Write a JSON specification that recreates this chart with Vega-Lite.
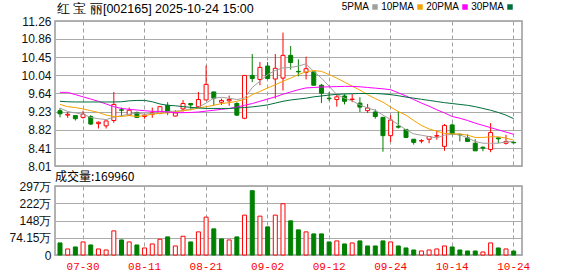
{
  "$schema": "https://vega.github.io/schema/vega-lite/v6.json",
  "background": "#ffffff",
  "padding": {"left": 8, "top": 1, "right": 5, "bottom": 0},
  "bounds": "flush",
  "spacing": 20,
  "config": {
    "view": {"stroke": "#999999", "strokeWidth": 1.5},
    "axis": {"gridColor": "#ababab", "gridWidth": 1, "gridOpacity": 1, "domain": false, "ticks": false, "labelFont": "Liberation Sans", "labelFontSize": 12, "labelColor": "#111111", "labelOverlap": false, "labelFlush": false}
  },
  "data": {"values": [
    {"t":"07-25","o":9.25,"h":9.31,"l":9.10,"c":9.18,"v":519000,"chg":"down","5PMA":9.31,"10PMA":9.39,"20PMA":9.66,"30PMA":9.46},
    {"t":"07-28","o":9.15,"h":9.22,"l":9.09,"c":9.17,"v":260000,"chg":"up","5PMA":9.23,"10PMA":9.34,"20PMA":9.66,"30PMA":9.45},
    {"t":"07-29","o":9.14,"h":9.14,"l":9.03,"c":9.07,"v":346000,"chg":"down","5PMA":9.20,"10PMA":9.32,"20PMA":9.61,"30PMA":9.445},
    {"t":"07-30","o":9.10,"h":9.25,"l":9.07,"c":9.17,"v":562000,"chg":"up","5PMA":9.17,"10PMA":9.29,"20PMA":9.56,"30PMA":9.445},
    {"t":"07-31","o":9.12,"h":9.15,"l":8.93,"c":8.95,"v":432000,"chg":"down","5PMA":9.10,"10PMA":9.25,"20PMA":9.51,"30PMA":9.445},
    {"t":"08-01","o":8.96,"h":9.01,"l":8.85,"c":8.99,"v":260000,"chg":"up","5PMA":9.07,"10PMA":9.21,"20PMA":9.46,"30PMA":9.445},
    {"t":"08-04","o":8.91,"h":9.03,"l":8.85,"c":9.02,"v":216000,"chg":"up","5PMA":9.05,"10PMA":9.15,"20PMA":9.40,"30PMA":9.445},
    {"t":"08-05","o":9.03,"h":9.67,"l":8.98,"c":9.39,"v":1038000,"chg":"up","5PMA":9.10,"10PMA":9.12,"20PMA":9.34,"30PMA":9.445},
    {"t":"08-06","o":9.27,"h":9.32,"l":9.12,"c":9.26,"v":649000,"chg":"down","5PMA":9.14,"10PMA":9.12,"20PMA":9.30,"30PMA":9.45},
    {"t":"08-07","o":9.15,"h":9.32,"l":9.14,"c":9.26,"v":562000,"chg":"up","5PMA":9.17,"10PMA":9.14,"20PMA":9.28,"30PMA":9.47},
    {"t":"08-08","o":9.21,"h":9.23,"l":9.09,"c":9.10,"v":432000,"chg":"down","5PMA":9.20,"10PMA":9.12,"20PMA":9.265,"30PMA":9.48},
    {"t":"08-11","o":9.12,"h":9.17,"l":9.07,"c":9.15,"v":303000,"chg":"up","5PMA":9.17,"10PMA":9.14,"20PMA":9.25,"30PMA":9.48},
    {"t":"08-12","o":9.17,"h":9.32,"l":9.09,"c":9.20,"v":476000,"chg":"up","5PMA":9.19,"10PMA":9.17,"20PMA":9.235,"30PMA":9.45},
    {"t":"08-13","o":9.19,"h":9.34,"l":9.17,"c":9.34,"v":678000,"chg":"up","5PMA":9.20,"10PMA":9.19,"20PMA":9.235,"30PMA":9.40},
    {"t":"08-14","o":9.37,"h":9.44,"l":9.15,"c":9.22,"v":779000,"chg":"down","5PMA":9.23,"10PMA":9.20,"20PMA":9.22,"30PMA":9.37},
    {"t":"08-15","o":9.13,"h":9.26,"l":9.12,"c":9.20,"v":389000,"chg":"up","5PMA":9.24,"10PMA":9.22,"20PMA":9.205,"30PMA":9.36},
    {"t":"08-18","o":9.29,"h":9.49,"l":9.23,"c":9.41,"v":807000,"chg":"up","5PMA":9.25,"10PMA":9.25,"20PMA":9.205,"30PMA":9.34},
    {"t":"08-19","o":9.41,"h":9.41,"l":9.26,"c":9.38,"v":562000,"chg":"down","5PMA":9.29,"10PMA":9.27,"20PMA":9.21,"30PMA":9.325},
    {"t":"08-20","o":9.34,"h":9.67,"l":9.31,"c":9.50,"v":995000,"chg":"up","5PMA":9.33,"10PMA":9.31,"20PMA":9.22,"30PMA":9.31},
    {"t":"08-21","o":9.49,"h":10.26,"l":9.49,"c":9.84,"v":1629000,"chg":"up","5PMA":9.42,"10PMA":9.34,"20PMA":9.24,"30PMA":9.30},
    {"t":"08-22","o":9.67,"h":9.67,"l":9.37,"c":9.53,"v":1125000,"chg":"down","5PMA":9.53,"10PMA":9.37,"20PMA":9.26,"30PMA":9.30},
    {"t":"08-25","o":9.44,"h":9.52,"l":9.38,"c":9.48,"v":692000,"chg":"down","5PMA":9.55,"10PMA":9.41,"20PMA":9.28,"30PMA":9.30},
    {"t":"08-26","o":9.47,"h":9.59,"l":9.36,"c":9.50,"v":649000,"chg":"up","5PMA":9.53,"10PMA":9.43,"20PMA":9.30,"30PMA":9.30},
    {"t":"08-27","o":9.41,"h":9.44,"l":9.13,"c":9.15,"v":779000,"chg":"down","5PMA":9.50,"10PMA":9.46,"20PMA":9.33,"30PMA":9.31},
    {"t":"08-28","o":9.08,"h":10.04,"l":9.06,"c":10.04,"v":1716000,"chg":"up","5PMA":9.53,"10PMA":9.50,"20PMA":9.37,"30PMA":9.32},
    {"t":"08-29","o":10.04,"h":10.52,"l":9.89,"c":9.97,"v":2768000,"chg":"down","5PMA":9.77,"10PMA":9.61,"20PMA":9.41,"30PMA":9.335},
    {"t":"09-01","o":9.95,"h":10.34,"l":9.82,"c":10.22,"v":1672000,"chg":"up","5PMA":9.91,"10PMA":9.68,"20PMA":9.46,"30PMA":9.355},
    {"t":"09-02","o":10.25,"h":10.34,"l":9.95,"c":9.97,"v":1211000,"chg":"down","5PMA":10.06,"10PMA":9.76,"20PMA":9.51,"30PMA":9.38},
    {"t":"09-03","o":9.96,"h":10.52,"l":9.52,"c":10.20,"v":1716000,"chg":"up","5PMA":10.15,"10PMA":9.83,"20PMA":9.56,"30PMA":9.42},
    {"t":"09-04","o":9.98,"h":11.00,"l":9.70,"c":10.49,"v":2206000,"chg":"up","5PMA":10.21,"10PMA":9.91,"20PMA":9.62,"30PMA":9.46},
    {"t":"09-05","o":10.49,"h":10.70,"l":10.17,"c":10.33,"v":1470000,"chg":"down","5PMA":10.22,"10PMA":9.98,"20PMA":9.67,"30PMA":9.49},
    {"t":"09-08","o":10.13,"h":10.40,"l":10.02,"c":10.12,"v":1081000,"chg":"down","5PMA":10.25,"10PMA":10.06,"20PMA":9.72,"30PMA":9.51},
    {"t":"09-09","o":10.11,"h":10.46,"l":9.95,"c":10.19,"v":995000,"chg":"up","5PMA":10.30,"10PMA":10.12,"20PMA":9.76,"30PMA":9.53},
    {"t":"09-10","o":10.12,"h":10.13,"l":9.82,"c":9.82,"v":908000,"chg":"down","5PMA":10.13,"10PMA":10.15,"20PMA":9.77,"30PMA":9.56},
    {"t":"09-11","o":9.82,"h":9.85,"l":9.42,"c":9.64,"v":908000,"chg":"down","5PMA":9.98,"10PMA":10.13,"20PMA":9.78,"30PMA":9.58},
    {"t":"09-12","o":9.53,"h":9.67,"l":9.47,"c":9.52,"v":562000,"chg":"down","5PMA":9.80,"10PMA":10.06,"20PMA":9.785,"30PMA":9.60},
    {"t":"09-15","o":9.50,"h":9.61,"l":9.34,"c":9.56,"v":606000,"chg":"up","5PMA":9.61,"10PMA":9.98,"20PMA":9.79,"30PMA":9.615},
    {"t":"09-16","o":9.58,"h":9.62,"l":9.39,"c":9.46,"v":476000,"chg":"down","5PMA":9.53,"10PMA":9.89,"20PMA":9.795,"30PMA":9.625},
    {"t":"09-17","o":9.50,"h":9.62,"l":9.44,"c":9.51,"v":519000,"chg":"up","5PMA":9.47,"10PMA":9.80,"20PMA":9.795,"30PMA":9.63},
    {"t":"09-18","o":9.42,"h":9.55,"l":9.22,"c":9.33,"v":606000,"chg":"down","5PMA":9.38,"10PMA":9.71,"20PMA":9.785,"30PMA":9.635},
    {"t":"09-19","o":9.25,"h":9.40,"l":9.20,"c":9.31,"v":389000,"chg":"down","5PMA":9.31,"10PMA":9.61,"20PMA":9.77,"30PMA":9.635},
    {"t":"09-22","o":9.22,"h":9.28,"l":9.07,"c":9.12,"v":389000,"chg":"down","5PMA":9.26,"10PMA":9.52,"20PMA":9.755,"30PMA":9.635},
    {"t":"09-23","o":9.10,"h":9.11,"l":8.33,"c":8.69,"v":606000,"chg":"down","5PMA":9.15,"10PMA":9.44,"20PMA":9.74,"30PMA":9.625},
    {"t":"09-24","o":8.69,"h":9.15,"l":8.55,"c":9.04,"v":562000,"chg":"up","5PMA":9.05,"10PMA":9.33,"20PMA":9.72,"30PMA":9.61},
    {"t":"09-25","o":8.90,"h":9.24,"l":8.85,"c":8.88,"v":389000,"chg":"down","5PMA":8.94,"10PMA":9.23,"20PMA":9.65,"30PMA":9.585},
    {"t":"09-26","o":8.83,"h":8.83,"l":8.65,"c":8.65,"v":303000,"chg":"down","5PMA":8.82,"10PMA":9.15,"20PMA":9.58,"30PMA":9.555},
    {"t":"09-29","o":8.61,"h":8.61,"l":8.49,"c":8.54,"v":216000,"chg":"down","5PMA":8.73,"10PMA":9.03,"20PMA":9.50,"30PMA":9.53},
    {"t":"09-30","o":8.57,"h":8.61,"l":8.52,"c":8.58,"v":173000,"chg":"up","5PMA":8.70,"10PMA":8.92,"20PMA":9.42,"30PMA":9.505},
    {"t":"10-09","o":8.61,"h":8.67,"l":8.52,"c":8.67,"v":216000,"chg":"up","5PMA":8.67,"10PMA":8.84,"20PMA":9.35,"30PMA":9.48},
    {"t":"10-10","o":8.68,"h":8.80,"l":8.60,"c":8.69,"v":260000,"chg":"up","5PMA":8.64,"10PMA":8.79,"20PMA":9.27,"30PMA":9.455},
    {"t":"10-13","o":8.45,"h":8.95,"l":8.35,"c":8.92,"v":389000,"chg":"up","5PMA":8.70,"10PMA":8.74,"20PMA":9.20,"30PMA":9.43},
    {"t":"10-14","o":8.93,"h":8.96,"l":8.70,"c":8.73,"v":346000,"chg":"down","5PMA":8.72,"10PMA":8.73,"20PMA":9.12,"30PMA":9.41},
    {"t":"10-15","o":8.72,"h":8.72,"l":8.56,"c":8.71,"v":216000,"chg":"down","5PMA":8.71,"10PMA":8.73,"20PMA":9.08,"30PMA":9.39},
    {"t":"10-16","o":8.64,"h":8.72,"l":8.56,"c":8.56,"v":173000,"chg":"down","5PMA":8.64,"10PMA":8.70,"20PMA":9.03,"30PMA":9.37},
    {"t":"10-17","o":8.52,"h":8.61,"l":8.35,"c":8.35,"v":173000,"chg":"down","5PMA":8.56,"10PMA":8.65,"20PMA":8.97,"30PMA":9.34},
    {"t":"10-20","o":8.43,"h":8.45,"l":8.34,"c":8.41,"v":130000,"chg":"up","5PMA":8.52,"10PMA":8.65,"20PMA":8.92,"30PMA":9.30},
    {"t":"10-21","o":8.38,"h":8.97,"l":8.32,"c":8.76,"v":519000,"chg":"up","5PMA":8.52,"10PMA":8.665,"20PMA":8.87,"30PMA":9.26},
    {"t":"10-22","o":8.64,"h":8.64,"l":8.52,"c":8.62,"v":303000,"chg":"down","5PMA":8.52,"10PMA":8.665,"20PMA":8.82,"30PMA":9.21},
    {"t":"10-23","o":8.52,"h":8.71,"l":8.49,"c":8.56,"v":260000,"chg":"up","5PMA":8.55,"10PMA":8.635,"20PMA":8.77,"30PMA":9.15},
    {"t":"10-24","o":8.54,"h":8.56,"l":8.52,"c":8.53,"v":169960,"chg":"down","5PMA":8.56,"10PMA":8.59,"20PMA":8.72,"30PMA":9.07}
  ]},
  "vconcat": [
    {
      "width": 467,
      "height": 145,
      "title": {"text": "红 宝 丽[002165] 2025-10-24 15:00", "anchor": "start", "frame": "group", "font": "Liberation Sans", "fontSize": 12.5, "fontWeight": "normal", "color": "#000000", "offset": 0, "dx": 2},
      "encoding": {
        "x": {"field": "t", "type": "ordinal", "sort": null,
          "scale": {"type": "band", "paddingInner": 0.35, "paddingOuter": 0.54, "align": 0.3},
          "axis": {"title": null, "labels": false, "grid": true, "gridDash": [4, 3], "gridColor": "#a0a0a0", "zindex": 0, "values": ["07-30", "08-11", "08-21", "09-02", "09-12", "09-24", "10-14", "10-24"]}}
      },
      "layer": [
        {
          "mark": {"type": "rule", "strokeWidth": 1},
          "encoding": {
            "y": {"field": "l", "type": "quantitative", "title": null, "scale": {"domain": [8.01, 11.26], "nice": false, "zero": false},
              "axis": {"values": [11.26, 10.86, 10.45, 10.04, 9.64, 9.23, 8.82, 8.41, 8.01], "tickCount": 20, "format": ".2f", "grid": true, "zindex": 0, "labelPadding": 4, "labelOverlap": false, "labelFlush": false}},
            "y2": {"field": "h"},
            "color": {"condition": {"test": "datum.c >= datum.o", "value": "#ff0000"}, "value": "#008000"}
          }
        },
        {
          "mark": {"type": "bar", "width": {"band": 0.8}, "strokeWidth": 1},
          "encoding": {
            "y": {"field": "o", "type": "quantitative", "title": null, "scale": {"domain": [8.01, 11.26], "nice": false, "zero": false}},
            "y2": {"field": "c"},
            "fill": {"condition": {"test": "datum.c >= datum.o", "value": "#ffffff"}, "value": "#008000"},
            "stroke": {"condition": {"test": "datum.c >= datum.o", "value": "#ff0000"}, "value": "#008000"}
          }
        },
        {
          "transform": [{"fold": ["5PMA", "10PMA", "20PMA", "30PMA"], "as": ["ma", "val"]}],
          "mark": {"type": "line", "strokeWidth": 1},
          "encoding": {
            "y": {"field": "val", "type": "quantitative", "title": null, "scale": {"domain": [8.01, 11.26], "nice": false, "zero": false}},
            "color": {"field": "ma", "type": "nominal",
              "scale": {"domain": ["5PMA", "10PMA", "20PMA", "30PMA"], "range": ["#a0a0a0", "#f5a300", "#ff00ff", "#006f3c"]},
              "legend": {"orient": "none", "legendX": 315, "legendY": -19, "direction": "horizontal", "title": null,
                "symbolType": "square", "symbolSize": 30, "labelFont": "Liberation Sans", "labelFontSize": 10, "labelColor": "#000000",
                "labelAlign": "right", "labelOffset": -11, "columnPadding": 3,
                "encode": {"symbols": {"update": {"fill": {"scale": "color", "field": "value"}, "strokeWidth": {"value": 0}}}}}}
          }
        }
      ]
    },
    {
      "width": 467,
      "height": 69,
      "title": {"text": "成交量:169960", "anchor": "start", "frame": "group", "font": "Noto Sans CJK SC", "fontSize": 12, "fontWeight": "normal", "color": "#000000", "offset": -4},
      "mark": {"type": "bar", "width": {"band": 0.8}, "strokeWidth": 1},
      "encoding": {
        "x": {"field": "t", "type": "ordinal", "sort": null,
          "scale": {"type": "band", "paddingInner": 0.35, "paddingOuter": 0.54, "align": 0.3},
          "axis": {"title": null, "grid": true, "gridDash": [4, 3], "gridColor": "#a0a0a0", "zindex": 0, "labelAngle": 0, "labelColor": "#ff0000", "labelFont": "Liberation Mono", "labelFontSize": 11, "labelPadding": 5, "labelOverlap": false,
            "values": ["07-30", "08-11", "08-21", "09-02", "09-12", "09-24", "10-14", "10-24"]}},
        "y": {"field": "v", "type": "quantitative", "title": null, "scale": {"domain": [0, 2970000], "nice": false},
          "axis": {"values": [0, 741500, 1480000, 2220000, 2970000], "tickCount": 20, "grid": true, "zindex": 0, "labelPadding": 4, "labelOverlap": false, "labelFlush": false,
            "labelExpr": "datum.value == 0 ? '0' : datum.value == 741500 ? '74.15万' : format(datum.value / 10000, 'd') + '万'"}},
        "fill": {"condition": {"test": "datum.chg == 'up'", "value": "#ffffff"}, "value": "#008000"},
        "stroke": {"condition": {"test": "datum.chg == 'up'", "value": "#ff0000"}, "value": "#008000"}
      }
    }
  ]
}
